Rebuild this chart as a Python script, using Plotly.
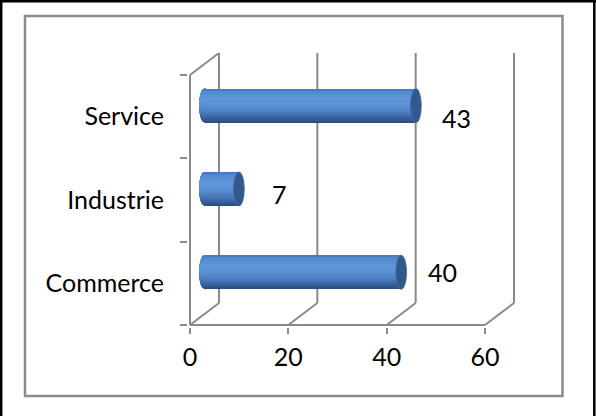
import numpy as np
import plotly.graph_objects as go

# ---- data -------------------------------------------------------------
categories = ["Commerce", "Industrie", "Service"]
values = [40, 7, 43]
x_ticks = [0, 20, 40, 60]

# ---- styling ----------------------------------------------------------
W, H = 596, 416
FONT = "Lato"
FONT_SIZE = 25
GRID = "#8a8a8a"
PX_PER_UNIT_X = 295 / 60.0          # value axis scale (px per unit)
PX_PER_CAT = 83.33                  # category band height (px)
DEPTH_X = 29 / PX_PER_UNIT_X        # 3-D depth offset in value units
DEPTH_Y = 22 / PX_PER_CAT           # 3-D depth offset in category units
BAR_T = 34 / PX_PER_CAT             # cylinder thickness
CAP_RX = 5.3 / PX_PER_UNIT_X        # horizontal radius of cylinder ends
LABEL_GAP = 41 / PX_PER_UNIT_X      # gap between bar end and value label
label_dy = [0, -5, -12]             # per-label vertical nudge (px)

# plot-area geometry
ML, MR, MT, MB = 188, 66, 40, 89
PW, PH = W - ML - MR, H - MT - MB
x_lo = -(190 - ML) / PX_PER_UNIT_X
x_hi = x_lo + PW / PX_PER_UNIT_X
y_lo = -0.5 - (H - MB - 325) / PX_PER_CAT
y_hi = y_lo + PH / PX_PER_CAT

# vertical shading across the cylinder (top -> bottom)
stops = [(0.00, "#4275b8"), (0.08, "#5088cd"), (0.30, "#5f97da"),
         (0.50, "#5a91d4"), (0.70, "#4a7bbd"), (0.88, "#365f98"),
         (1.00, "#2a4a78")]


def hex2rgb(h):
    return np.array([int(h[i:i + 2], 16) for i in (1, 3, 5)], dtype=float)


def shade(t):
    for (t0, c0), (t1, c1) in zip(stops[:-1], stops[1:]):
        if t <= t1:
            f = (t - t0) / (t1 - t0) if t1 > t0 else 0
            c = hex2rgb(c0) * (1 - f) + hex2rgb(c1) * f
            return "rgb(%d,%d,%d)" % tuple(np.round(c))
    return stops[-1][1]


N_STRIPS = 16
mid_x = DEPTH_X / 2       # bars sit half-way into the depth
mid_y = DEPTH_Y / 2
bar_top = mid_y + BAR_T / 2   # relative to category centre

fig = go.Figure()
shapes = []

# ---- wireframe (walls / floor) ----------------------------------------
line = dict(color=GRID, width=2)
cat_lo, cat_hi = -0.5, len(categories) - 0.5
for v in x_ticks:
    # back-wall gridline
    shapes.append(dict(type="line", xref="x", yref="y", layer="below",
                       x0=v + DEPTH_X, x1=v + DEPTH_X,
                       y0=cat_lo + DEPTH_Y, y1=cat_hi + DEPTH_Y, line=line))
    # floor diagonal
    shapes.append(dict(type="line", xref="x", yref="y", layer="below",
                       x0=v, x1=v + DEPTH_X, y0=cat_lo, y1=cat_lo + DEPTH_Y,
                       line=line))
# front value axis line
shapes.append(dict(type="line", xref="x", yref="y", layer="below",
                   x0=x_ticks[0], x1=x_ticks[-1], y0=cat_lo, y1=cat_lo,
                   line=line))
# front category axis line and top side-wall edge
shapes.append(dict(type="line", xref="x", yref="y", layer="below",
                   x0=0, x1=0, y0=cat_lo, y1=cat_hi, line=line))
shapes.append(dict(type="line", xref="x", yref="y", layer="below",
                   x0=0, x1=DEPTH_X, y0=cat_hi, y1=cat_hi + DEPTH_Y,
                   line=line))

# ---- cylinder bodies: cumulative shaded strips -------------------------
strip_h = BAR_T / N_STRIPS
for i in reversed(range(N_STRIPS)):
    col = shade((i + 0.5) / N_STRIPS)
    lo = bar_top - (i + 1) * strip_h
    fig.add_trace(go.Bar(
        y=categories, x=values, base=[mid_x] * len(values),
        orientation="h", offset=lo, width=bar_top - lo,
        marker=dict(color=col, line=dict(width=0)),
        hoverinfo="skip", showlegend=False))

    # rounded left end of each cylinder, same shading
    for ci in range(len(categories)):
        cy = ci + mid_y
        ry = BAR_T / 2
        y0 = ci + lo
        ys = np.linspace(y0, cy + ry, 24)
        xs = mid_x - CAP_RX * np.sqrt(np.clip(1 - ((ys - cy) / ry) ** 2, 0, 1))
        pts = ["M %.4f,%.4f" % (mid_x + 0.3, y0)]
        pts += ["L %.4f,%.4f" % (x, y) for x, y in zip(xs, ys)]
        pts += ["L %.4f,%.4f Z" % (mid_x + 0.3, cy + ry)]
        shapes.append(dict(type="path", xref="x", yref="y", layer="below",
                           path=" ".join(pts), fillcolor=col,
                           line=dict(width=0)))

# ---- cylinder end caps ------------------------------------------------
for ci, v in enumerate(values):
    cx = v + mid_x
    cy = ci + mid_y
    shapes.append(dict(type="circle", xref="x", yref="y", layer="above",
                       x0=cx - CAP_RX, x1=cx + CAP_RX,
                       y0=cy - BAR_T / 2, y1=cy + BAR_T / 2,
                       fillcolor="#33588b", line=dict(color="#4068a0", width=1)))

# ---- value labels -----------------------------------------------------
annotations = []
for ci, v in enumerate(values):
    annotations.append(dict(
        x=v + mid_x + LABEL_GAP, y=ci + mid_y, xref="x", yref="y",
        text=str(v), showarrow=False, yshift=label_dy[ci],
        font=dict(family=FONT, size=FONT_SIZE, color="#000000"),
        xanchor="center", yanchor="middle"))


# ---- chart frame (paper coordinates are relative to the plot area) ----
def px(xp):
    return (xp - ML) / PW


def py(yp):
    return (H - MB - yp) / PH


shapes.append(dict(type="rect", xref="paper", yref="paper", layer="below",
                   x0=px(25), x1=px(562.5), y0=py(396), y1=py(16),
                   line=dict(color="#8c8c8c", width=2.5)))
for x0, y0, x1, y1 in [(1.2, 0, 1.2, H), (0, 1.2, W, 1.2), (594.3, 0, 594.3, H)]:
    shapes.append(dict(type="line", xref="paper", yref="paper",
                       x0=px(x0), x1=px(x1), y0=py(y0), y1=py(y1),
                       line=dict(color="#000000", width=2.5)))

fig.update_layout(
    width=W, height=H,
    margin=dict(l=ML, r=MR, t=MT, b=MB, pad=0),
    paper_bgcolor="white", plot_bgcolor="white",
    barmode="overlay", bargap=0,
    shapes=shapes, annotations=annotations,
    font=dict(family=FONT, size=FONT_SIZE, color="#000000"),
    xaxis=dict(range=[x_lo, x_hi], tickvals=x_ticks, ticktext=[str(t) for t in x_ticks],
               ticks="outside", ticklen=6, tickwidth=2, tickcolor=GRID,
               showgrid=False, zeroline=False, showline=False,
               ticklabelstandoff=2, automargin=False, fixedrange=True),
    yaxis=dict(type="category", range=[y_lo, y_hi], categoryorder="array",
               categoryarray=categories, tickson="boundaries",
               ticks="outside", ticklen=7, tickwidth=2, tickcolor=GRID,
               showgrid=False, zeroline=False, showline=False,
               ticklabelstandoff=23, automargin=False, fixedrange=True),
)

fig.write_html("out.html")
